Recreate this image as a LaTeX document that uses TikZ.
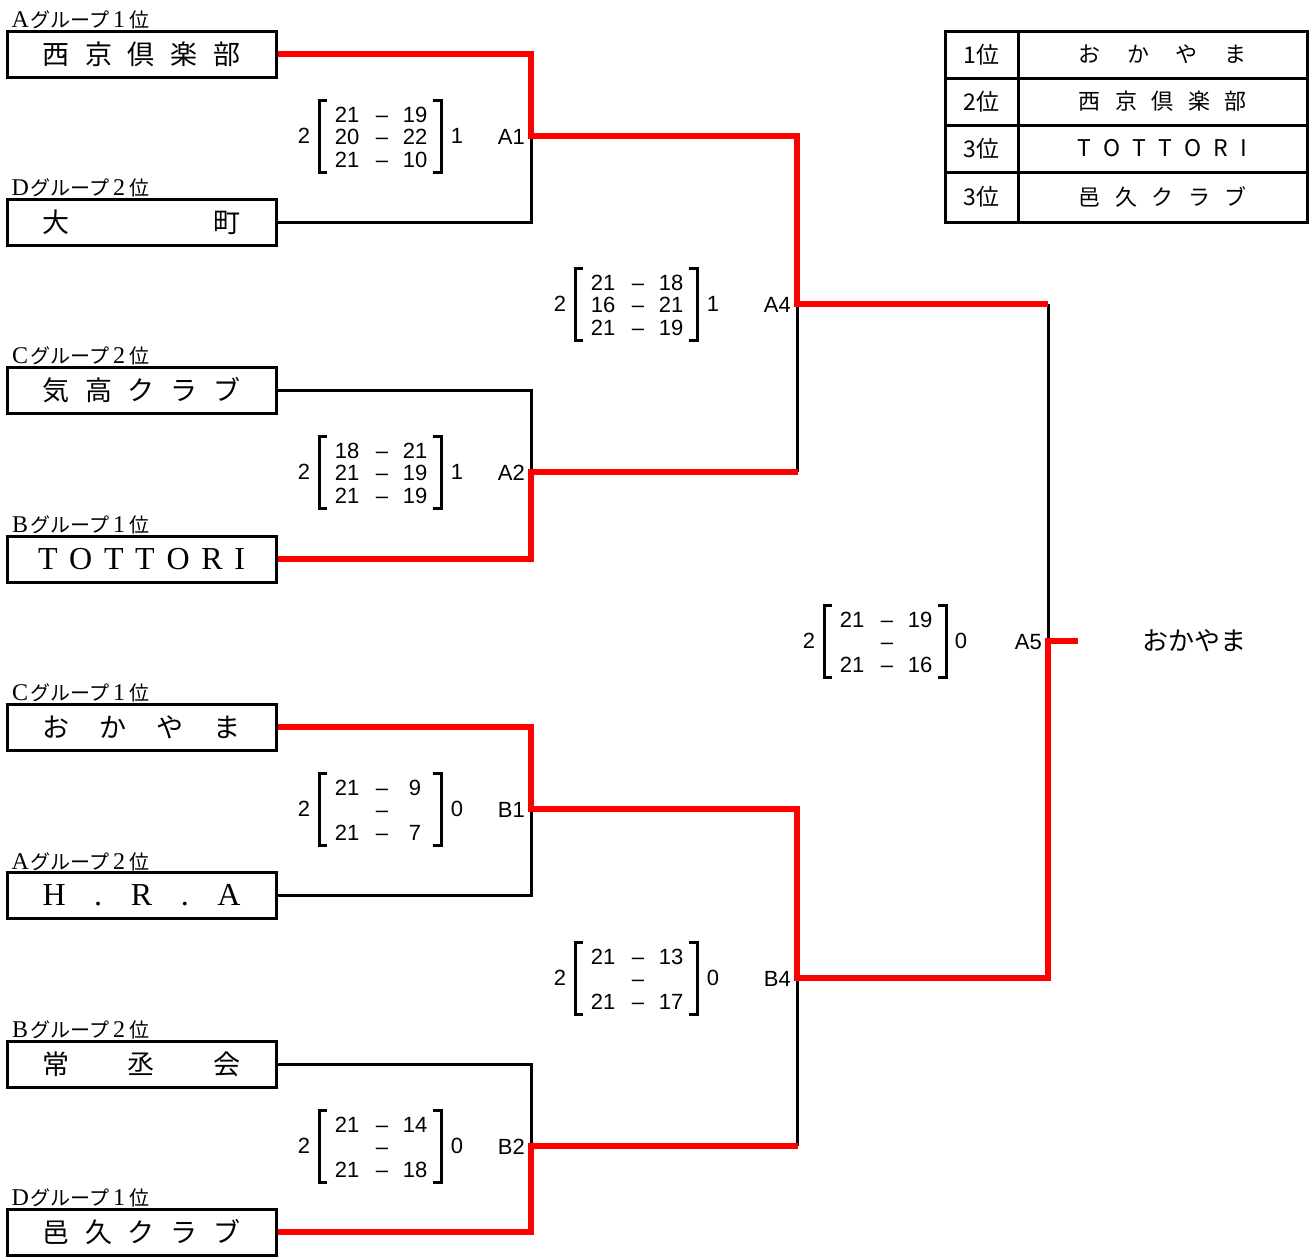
\documentclass[tikz,border=0pt]{standalone}
\usepackage{fontspec}
\newfontfamily\jpfont{Noto Sans CJK JP}
\newfontfamily\lsans{Liberation Sans}
\newfontfamily\lserif{Liberation Serif}
\definecolor{wred}{HTML}{FF0000}
\newcommand\fwc[1]{\makebox[20pt]{\lserif\fontsize{24}{24}\selectfont #1}}
\newcommand\spr[2]{\makebox[#1]{#2}}
% score block: name, X, Y, r1L, r1R, r2L, r2R, r3L, r3R
\newcommand\scblk[9]{%
  \node[sc] (#1w) at (#2,#3) {2};
  \draw[brk] ({#2+23},{#3-36}) -- ({#2+15},{#3-36}) -- ({#2+15},{#3+36}) -- ({#2+23},{#3+36});
  \draw[brk] ({#2+129},{#3-36}) -- ({#2+137},{#3-36}) -- ({#2+137},{#3+36}) -- ({#2+129},{#3+36});
  \node[sc] (#1a) at ({#2+43},{#3-21.5}) {#4};
  \node[sc] (#1b) at ({#2+78},{#3-21.5}) {–};
  \node[sc] (#1c) at ({#2+111},{#3-21.5}) {#5};
  \node[sc] (#1d) at ({#2+43},{#3+1}) {#6};
  \node[sc] (#1e) at ({#2+78},{#3+1}) {–};
  \node[sc] (#1f) at ({#2+111},{#3+1}) {#7};
  \node[sc] (#1g) at ({#2+43},{#3+23.5}) {#8};
  \node[sc] (#1h) at ({#2+78},{#3+23.5}) {–};
  \node[sc] (#1i) at ({#2+111},{#3+23.5}) {#9};
}
\begin{document}
\begin{tikzpicture}[x=1pt,y=-1pt,
  team/.style={draw, line width=3pt, minimum width=269pt, minimum height=46pt, inner sep=0pt,
    font=\jpfont\fontsize{27}{27}\selectfont},
  grp/.style={anchor=base west, inner sep=0pt, font=\jpfont\fontsize{20}{20}\selectfont},
  sc/.style={inner sep=0pt, font=\lsans\fontsize{22}{22}\selectfont, text height=15.8pt, text depth=0pt},
  lbl/.style={sc, anchor=east},
  brk/.style={line width=3pt, line join=miter},
  lose/.style={line width=3pt, black},
  win/.style={line width=6.5pt, wred, line join=miter},
  cell/.style={draw, line width=3pt, inner sep=0pt, font=\jpfont\fontsize{22}{22}\selectfont}
]
\useasboundingbox (0,0) rectangle (1316,1256);

% junction coordinates
\coordinate (A1) at (531,136);
\coordinate (A2) at (531,472);
\coordinate (A4) at (797,304);
\coordinate (A5) at (1048,641);
\coordinate (B1) at (531,809);
\coordinate (B2) at (531,1146);
\coordinate (B4) at (797,978);
\coordinate (W) at (1078,641);

% teams
\node[team] (t1) at (141.5,54) {\spr{198pt}{西\hfill 京\hfill 倶\hfill 楽\hfill 部}};
\node[team] (t2) at (141.5,222) {\spr{198pt}{大\hfill 町}};
\node[team] (t3) at (141.5,390) {\spr{198pt}{気\hfill 高\hfill ク\hfill ラ\hfill ブ}};
\node[team] (t4) at (141.5,559) {\spr{207pt}{\lserif\fontsize{32}{32}\selectfont T\hfill O\hfill T\hfill T\hfill O\hfill R\hfill I}};
\node[team] (t5) at (141.5,727) {\spr{198pt}{お\hfill か\hfill や\hfill ま}};
\node[team] (t6) at (141.5,895.5) {\spr{198pt}{\lserif\fontsize{32}{32}\selectfont H\hfill .\hfill R\hfill .\hfill A}};
\node[team] (t7) at (141.5,1064) {\spr{198pt}{常\hfill 丞\hfill 会}};
\node[team] (t8) at (141.5,1232) {\spr{198pt}{邑\hfill 久\hfill ク\hfill ラ\hfill ブ}};

% group labels
\node[grp] (g1) at (10,27) {\fwc{A}グループ\fwc{1}位};
\node[grp] (g2) at (10,195) {\fwc{D}グループ\fwc{2}位};
\node[grp] (g3) at (10,363) {\fwc{C}グループ\fwc{2}位};
\node[grp] (g4) at (10,532) {\fwc{B}グループ\fwc{1}位};
\node[grp] (g5) at (10,700) {\fwc{C}グループ\fwc{1}位};
\node[grp] (g6) at (10,869) {\fwc{A}グループ\fwc{2}位};
\node[grp] (g7) at (10,1037) {\fwc{B}グループ\fwc{2}位};
\node[grp] (g8) at (10,1205) {\fwc{D}グループ\fwc{1}位};

% losing (black) connectors
\draw[lose] (t2.east) -| (A1);
\draw[lose] (t3.east) -| (A2);
\draw[lose] (A2 -| A4) -- (A4);
\draw[lose] (A4 -| A5) -- (A5);
\draw[lose] (t6.east) -| (B1);
\draw[lose] (t7.east) -| (B2);
\draw[lose] (B2 -| B4) -- (B4);

% winning (red) connectors
\draw[win] (t1.east) -| (A1) -| (A4) -- (A4 -| A5);
\draw[win] (t4.east) -| (A2) -- ([xshift=1.3pt]A2 -| A4);
\draw[win] (t5.east) -| (B1) -| (B4) -| (A5) -- (W);
\draw[win] (t8.east) -| (B2) -- ([xshift=1.3pt]B2 -| B4);

% match labels
\node[lbl] (lA1) at (525,137) {A1};
\node[lbl] (lA2) at (525,473) {A2};
\node[lbl] (lA4) at (791,305) {A4};
\node[lbl] (lA5) at (1042,642) {A5};
\node[lbl] (lB1) at (525,810) {B1};
\node[lbl] (lB2) at (525,1147) {B2};
\node[lbl] (lB4) at (791,979) {B4};

% scores
\scblk{sA1}{304}{136}{21}{19}{20}{22}{21}{10}
\node[sc] (sA1l) at (457,136) {1};
\scblk{sA2}{304}{472}{18}{21}{21}{19}{21}{19}
\node[sc] (sA2l) at (457,472) {1};
\scblk{sA4}{560}{304}{21}{18}{16}{21}{21}{19}
\node[sc] (sA4l) at (713,304) {1};
\scblk{sA5}{809}{641}{21}{19}{}{}{21}{16}
\node[sc] (sA5l) at (961,641) {0};
\scblk{sB1}{304}{809}{21}{9}{}{}{21}{7}
\node[sc] (sB1l) at (457,809) {0};
\scblk{sB4}{560}{978}{21}{13}{}{}{21}{17}
\node[sc] (sB4l) at (713,978) {0};
\scblk{sB2}{304}{1146}{21}{14}{}{}{21}{18}
\node[sc] (sB2l) at (457,1146) {0};

% champion
\node[inner sep=0pt, font=\jpfont\fontsize{26}{26}\selectfont] (champ) at (1194,641) {おかやま};

% ranking table
\node[cell, minimum width=73pt, minimum height=47pt] (r1) at (981.5,54.5) {\fontsize{23}{23}\selectfont 1位};
\node[cell, minimum width=289pt, minimum height=47pt] (n1) at (1162.5,54.5) {\spr{168pt}{お\hfill か\hfill や\hfill ま}};
\node[cell, minimum width=73pt, minimum height=47pt] (r2) at (981.5,101.5) {\fontsize{23}{23}\selectfont 2位};
\node[cell, minimum width=289pt, minimum height=47pt] (n2) at (1162.5,101.5) {\spr{168pt}{西\hfill 京\hfill 倶\hfill 楽\hfill 部}};
\node[cell, minimum width=73pt, minimum height=47pt] (r3) at (981.5,148.5) {\fontsize{23}{23}\selectfont 3位};
\node[cell, minimum width=289pt, minimum height=47pt] (n3) at (1162.5,148.5) {\spr{170pt}{\fontsize{23}{23}\selectfont T\hfill O\hfill T\hfill T\hfill O\hfill R\hfill I}};
\node[cell, minimum width=73pt, minimum height=50pt] (r4) at (981.5,197) {\fontsize{23}{23}\selectfont 3位};
\node[cell, minimum width=289pt, minimum height=50pt] (n4) at (1162.5,197) {\spr{168pt}{邑\hfill 久\hfill ク\hfill ラ\hfill ブ}};
\end{tikzpicture}
\end{document}
